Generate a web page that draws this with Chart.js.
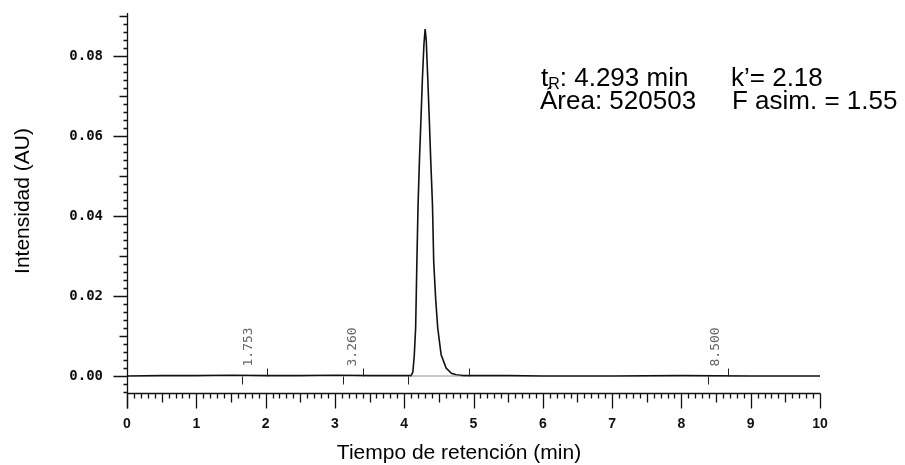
<!DOCTYPE html>
<html>
<head>
<meta charset="utf-8">
<script src="https://cdn.jsdelivr.net/npm/chart.js@4"></script>
<style>
  html, body { margin: 0; padding: 0; background: #fff; }
  #chrom { display: block; }
</style>
</head>
<body>
<canvas id="chrom" width="905" height="465"></canvas>
<script>
// Chromatogram - single peak at 4.293 min

const timeMin = [0, 0.5, 1.0, 1.5, 2.0, 2.5, 3.0, 3.5, 4.0, 4.10, 4.125, 4.145, 4.165, 4.183, 4.20, 4.222,
    4.244, 4.263, 4.285, 4.302, 4.318, 4.340, 4.360, 4.385, 4.408, 4.426, 4.455, 4.484, 4.533, 4.605,
    4.68, 4.75, 4.85, 5.5, 6, 7, 8, 9, 10];
const intensityAU = [0, 0.0001, 0.0001, 0.0002, 0.0001, 0.0001, 0.0002, 0.0001, 0.0001, 0.0001, 0.001, 0.005, 0.012, 0.0285, 0.0428, 0.055,
    0.0652, 0.0745, 0.083, 0.0868, 0.084, 0.0745, 0.0652, 0.053, 0.0428, 0.0285, 0.019, 0.012, 0.0053, 0.002,
    0.0007, 0.0003, 0.0001, 0.0001, 0, 0, 0.0001, 0, 0];

// integration baseline under the peak
const baselineTimes = [4.10, 4.82];
const baselineValues = [0, 0];

// event marks (start ticks go down, end ticks go up)
const eventStartTimes = [1.66, 3.12, 4.05, 8.38];
const eventEndTimes = [2.02, 3.41, 4.93, 8.67];

// retention time labels written above the trace
const peakLabelTimes = [1.753, 3.260, 8.500];
const peakLabels = ['1.753', '3.260', '8.500'];

const xTickValues = [0, 1, 2, 3, 4, 5, 6, 7, 8, 9, 10];
const yTickValues = [0, 0.02, 0.04, 0.06, 0.08];

const xTitle = 'Tiempo de retención (min)';
const yTitle = 'Intensidad (AU)';

function toPoints(xs, ys) {
    return xs.map((t, i) => ({ x: t, y: ys[i] }));
}

const decorPlugin = {
    id: 'decor',
    afterDatasetsDraw(chart) {
        const { ctx, chartArea: a, scales: { x, y } } = chart;
        ctx.save();
        ctx.strokeStyle = '#111';
        ctx.lineWidth = 1.3;

        // x axis line + ticks hanging below it
        const xb = Math.round(a.bottom) + 0.5;
        ctx.beginPath();
        ctx.moveTo(a.left, xb);
        ctx.lineTo(a.right + 0.5, xb);
        for (let i = 0; i <= 100; i++) {
            const px = Math.round(x.getPixelForValue(i / 10)) + 0.5;
            const len = i % 10 === 0 ? 15 : (i % 5 === 0 ? 9 : 5);
            ctx.moveTo(px, xb);
            ctx.lineTo(px, xb + len);
        }
        ctx.stroke();

        // y axis line + ticks to the left
        const yl = Math.round(a.left) + 0.5;
        ctx.beginPath();
        ctx.moveTo(yl, a.top);
        ctx.lineTo(yl, xb + 15);
        for (let k = -2; k <= 45; k++) {
            const py = Math.round(y.getPixelForValue(k * 0.002)) + 0.5;
            const len = k % 10 === 0 ? 14 : (k % 5 === 0 ? 8 : 4);
            ctx.moveTo(yl, py);
            ctx.lineTo(yl - len, py);
        }
        ctx.stroke();

        // event marks on the baseline
        const y0 = Math.round(y.getPixelForValue(0)) + 0.5;
        ctx.lineWidth = 1;
        ctx.strokeStyle = '#222';
        ctx.beginPath();
        eventStartTimes.forEach(t => {
            const px = Math.round(x.getPixelForValue(t)) + 0.5;
            ctx.moveTo(px, y0);
            ctx.lineTo(px, y0 + 8);
        });
        eventEndTimes.forEach(t => {
            const px = Math.round(x.getPixelForValue(t)) + 0.5;
            ctx.moveTo(px, y0);
            ctx.lineTo(px, y0 - 8);
        });
        ctx.stroke();

        // rotated retention labels
        ctx.fillStyle = '#666';
        ctx.font = '13px "DejaVu Sans Mono"';
        ctx.textAlign = 'left';
        ctx.textBaseline = 'middle';
        peakLabelTimes.forEach((t, i) => {
            ctx.save();
            ctx.translate(x.getPixelForValue(t), y0 - 10);
            ctx.rotate(-Math.PI / 2);
            ctx.fillText(peakLabels[i], 0, 0);
            ctx.restore();
        });
        ctx.restore();
    },
    afterDraw(chart) {
        const { ctx } = chart;
        ctx.save();
        ctx.fillStyle = '#000';
        ctx.textBaseline = 'alphabetic';

        // axis titles
        ctx.font = '21px "Liberation Sans", Arial, sans-serif';
        ctx.textAlign = 'center';
        ctx.fillText(xTitle, 459, 459);
        ctx.save();
        ctx.translate(29, 201);
        ctx.rotate(-Math.PI / 2);
        ctx.fillText(yTitle, 0, 0);
        ctx.restore();

        // peak info
        ctx.textAlign = 'left';
        const big = '26px "Liberation Sans", Arial, sans-serif';
        ctx.font = big;
        ctx.fillText('t', 541, 86);
        let w = ctx.measureText('t').width;
        ctx.font = '16px "Liberation Sans", Arial, sans-serif';
        ctx.fillText('R', 541 + w, 89);
        w += ctx.measureText('R').width;
        ctx.font = big;
        ctx.fillText(': 4.293 min', 541 + w, 86);
        ctx.fillText('k\u2019= 2.18', 731, 86);
        ctx.fillText('\u00c1rea: 520503', 540, 109);
        ctx.fillText('F asim. = 1.55', 732, 109);
        ctx.restore();
    }
};

new Chart(document.getElementById('chrom'), {
    type: 'line',
    data: {
        datasets: [
            {
                label: 'baseline',
                data: toPoints(baselineTimes, baselineValues),
                borderColor: '#9a8a8a',
                borderWidth: 1,
                pointRadius: 0
            },
            {
                label: 'signal',
                data: toPoints(timeMin, intensityAU),
                borderColor: '#111',
                borderWidth: 1.6,
                pointRadius: 0,
                tension: 0
            }
        ]
    },
    options: {
        responsive: false,
        devicePixelRatio: 1,
        animation: false,
        layout: { padding: { top: 13, right: 85, bottom: 0, left: 0 } },
        plugins: {
            legend: { display: false },
            tooltip: { enabled: false }
        },
        scales: {
            x: {
                type: 'linear',
                min: 0,
                max: 10,
                // hidden grid, tickLength only used to push the labels down
                grid: { display: false, drawTicks: true, tickLength: 23 },
                border: { display: false },
                afterBuildTicks: s => { s.ticks = xTickValues.map(v => ({ value: v })); },
                afterFit: s => { s.height = 72; },
                ticks: {
                    padding: 0,
                    color: '#111',
                    maxRotation: 0,
                    autoSkip: false,
                    font: { family: '"Liberation Sans", Arial, sans-serif', size: 14, weight: 'bold' },
                    callback: v => String(v)
                }
            },
            y: {
                type: 'linear',
                min: -0.00425,
                max: 0.0908,
                grid: { display: false, drawTicks: true, tickLength: 24 },
                border: { display: false },
                afterBuildTicks: s => { s.ticks = yTickValues.map(v => ({ value: v })); },
                afterFit: s => { s.width = 127; },
                ticks: {
                    padding: 0,
                    color: '#111',
                    autoSkip: false,
                    font: { family: '"DejaVu Sans Mono", monospace', size: 14, weight: 'bold' },
                    callback: v => v.toFixed(2)
                }
            }
        }
    },
    plugins: [decorPlugin]
});
</script>
</body>
</html>
